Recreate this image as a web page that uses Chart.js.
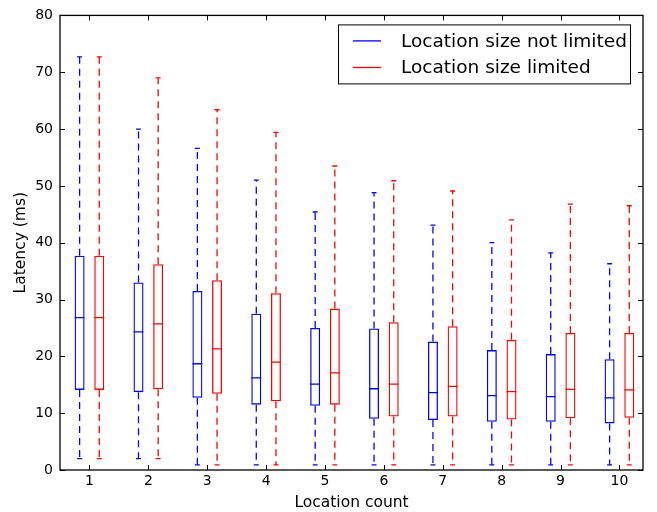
<!DOCTYPE html>
<html>
<head>
<meta charset="utf-8">
<script src="https://cdn.jsdelivr.net/npm/chart.js@4.4.0/dist/chart.umd.min.js"></script>
<style>
  html, body { margin: 0; padding: 0; background: #fff; }
  #wrap { width: 657px; height: 512px; }
</style>
</head>
<body>
<div id="wrap"><canvas id="grafica" width="657" height="512"></canvas></div>
<script>
// location count (x categories)
const counts = [1, 2, 3, 4, 5, 6, 7, 8, 9, 10];
const yTicks = [0, 10, 20, 30, 40, 50, 60, 70, 80];
const seriesNames = ["Location size not limited", "Location size limited"];

// "not limited" boxes
const minA = [2.0, 2.0, 0.9, 0.9, 0.9, 0.9, 0.9, 0.9, 0.9, 0.9];
const q1A  = [14.1, 13.7, 12.7, 11.5, 11.3, 9.0, 8.8, 8.5, 8.5, 8.2];
const medA = [26.8, 24.3, 18.7, 16.2, 15.1, 14.3, 13.6, 13.1, 12.9, 12.7];
const q3A  = [37.7, 33.0, 31.5, 27.5, 25.0, 24.9, 22.6, 21.1, 20.4, 19.5];
const maxA = [72.7, 60.0, 56.6, 51.0, 45.4, 48.8, 43.1, 40.0, 38.2, 36.3];

// "limited" boxes
const minB = [2.0, 2.0, 0.9, 0.9, 0.9, 0.9, 0.9, 0.9, 0.9, 0.9];
const q1B  = [14.1, 14.2, 13.4, 12.1, 11.5, 9.4, 9.4, 8.9, 9.1, 9.2];
const medB = [26.8, 25.7, 21.3, 19.0, 17.1, 15.1, 14.7, 13.8, 14.2, 14.1];
const q3B  = [37.7, 36.2, 33.4, 31.1, 28.4, 26.0, 25.3, 22.9, 24.1, 24.1];
const maxB = [72.7, 69.0, 63.4, 59.4, 53.5, 50.9, 49.1, 44.0, 46.8, 46.5];

const BLUE = "#0000ff";
const RED = "#ff0000";
const OFF = 0.167;      // shift of each box from the tick
const HALF = 0.083;     // half box width (x units)
const CAP = 0.042;      // half cap width
const FONT = "'DejaVu Sans', sans-serif";

function serie(shift, mn, q1, med, q3, mx, color, name) {
  let whisk = [], caps = [], meds = [];
  for (let i = 0; i < counts.length; i++) {
    const x = counts[i] + shift;
    whisk.push({x: x, y: q3[i]}, {x: x, y: mx[i]}, {x: x, y: null});
    whisk.push({x: x, y: q1[i]}, {x: x, y: mn[i]}, {x: x, y: null});
    caps.push({x: x - CAP, y: mx[i]}, {x: x + CAP, y: mx[i]}, {x: x, y: null});
    caps.push({x: x - CAP, y: mn[i]}, {x: x + CAP, y: mn[i]}, {x: x, y: null});
    meds.push({x: x - HALF, y: med[i]}, {x: x + HALF, y: med[i]}, {x: x, y: null});
  }
  const linea = {type: "line", showLine: true, spanGaps: false, pointRadius: 0,
                 borderColor: color, borderWidth: 1.3, fill: false};
  return [
    {type: "bar", label: name, data: counts.map((c, i) => ({x: c + shift, y: [q1[i], q3[i]]})),
     backgroundColor: "rgba(0,0,0,0)", borderColor: color, borderWidth: 1.3,
     borderSkipped: false, grouped: false, maxBarThickness: 10},
    Object.assign({}, linea, {label: name + " med", data: meds}),
    Object.assign({}, linea, {label: name + " whisker", data: whisk, borderDash: [7, 5]}),
    Object.assign({}, linea, {label: name + " cap", data: caps}),
  ];
}

// frame + inward ticks on all four sides
const marco = {
  id: "marco",
  afterDatasetsDraw(chart) {
    const {ctx, chartArea: a, scales} = chart;
    ctx.save();
    ctx.strokeStyle = "#000";
    ctx.lineWidth = 1;
    ctx.beginPath();
    scales.x.ticks.forEach(t => {
      const px = Math.round(scales.x.getPixelForValue(t.value)) + 0.5;
      ctx.moveTo(px, a.bottom); ctx.lineTo(px, a.bottom - 5);
      ctx.moveTo(px, a.top); ctx.lineTo(px, a.top + 5);
    });
    scales.y.ticks.forEach(t => {
      const py = Math.round(scales.y.getPixelForValue(t.value)) + 0.5;
      ctx.moveTo(a.left, py); ctx.lineTo(a.left + 5, py);
      ctx.moveTo(a.right, py); ctx.lineTo(a.right - 5, py);
    });
    ctx.stroke();
    ctx.lineWidth = 1.3;
    ctx.strokeRect(a.left, a.top, a.right - a.left, a.bottom - a.top);
    ctx.restore();
  }
};

// legend box in the upper right corner
const leyenda = {
  id: "leyenda",
  afterDraw(chart) {
    const {ctx, chartArea: a} = chart;
    const colors = [BLUE, RED];
    const right = a.right - 13, top = a.top + 9;
    const w = 292, h = 59;
    ctx.save();
    ctx.fillStyle = "#fff";
    ctx.fillRect(right - w, top, w, h);
    ctx.strokeStyle = "#000";
    ctx.lineWidth = 1;
    ctx.strokeRect(right - w + 0.5, top + 0.5, w, h);
    ctx.font = "18.5px " + FONT;
    ctx.textBaseline = "middle";
    seriesNames.forEach((n, i) => {
      const y = top + 16.5 + i * 26.6;
      ctx.strokeStyle = colors[i];
      ctx.lineWidth = 1.3;
      ctx.beginPath();
      ctx.moveTo(right - w + 15, y); ctx.lineTo(right - w + 43, y);
      ctx.stroke();
      ctx.fillStyle = "#000";
      ctx.fillText(n, right - w + 63, y + 1);
    });
    ctx.restore();
  }
};

const canvas = document.getElementById("grafica");
const ctx = canvas.getContext("2d");

let grafico = new Chart(ctx, {
  type: "bar",
  data: {
    datasets: [
      ...serie(-OFF, minA, q1A, medA, q3A, maxA, BLUE, seriesNames[0]),
      ...serie(OFF, minB, q1B, medB, q3B, maxB, RED, seriesNames[1]),
    ],
  },
  options: {
    responsive: false,
    animation: false,
    layout: {padding: {left: 0, top: 15, right: 14, bottom: 0}},
    plugins: {legend: {display: false}, tooltip: {enabled: false}},
    scales: {
      x: {
        type: "linear",
        min: 0.5,
        max: 10.4,
        offset: false,
        grid: {display: false, drawTicks: false},
        border: {display: false},
        afterBuildTicks: s => { s.ticks = counts.map(v => ({value: v})); },
        afterFit: s => { s.height = 42; },
        ticks: {color: "#000", font: {family: FONT, size: 14}, padding: 3, maxRotation: 0,
                callback: v => String(v)},
        title: {display: true, text: "Location count", color: "#000",
                font: {family: FONT, size: 15.5}, padding: {top: 0, bottom: 0}},
      },
      y: {
        type: "linear",
        min: 0,
        max: 80,
        grid: {display: false, drawTicks: false},
        border: {display: false},
        afterBuildTicks: s => { s.ticks = yTicks.map(v => ({value: v})); },
        afterFit: s => { s.width = 60; },
        ticks: {color: "#000", font: {family: FONT, size: 14}, padding: 7},
        title: {display: true, text: "Latency (ms)", color: "#000",
                font: {family: FONT, size: 15.5}, padding: {top: 12, bottom: 0}},
      },
    },
  },
  plugins: [marco, leyenda],
});
</script>
</body>
</html>
